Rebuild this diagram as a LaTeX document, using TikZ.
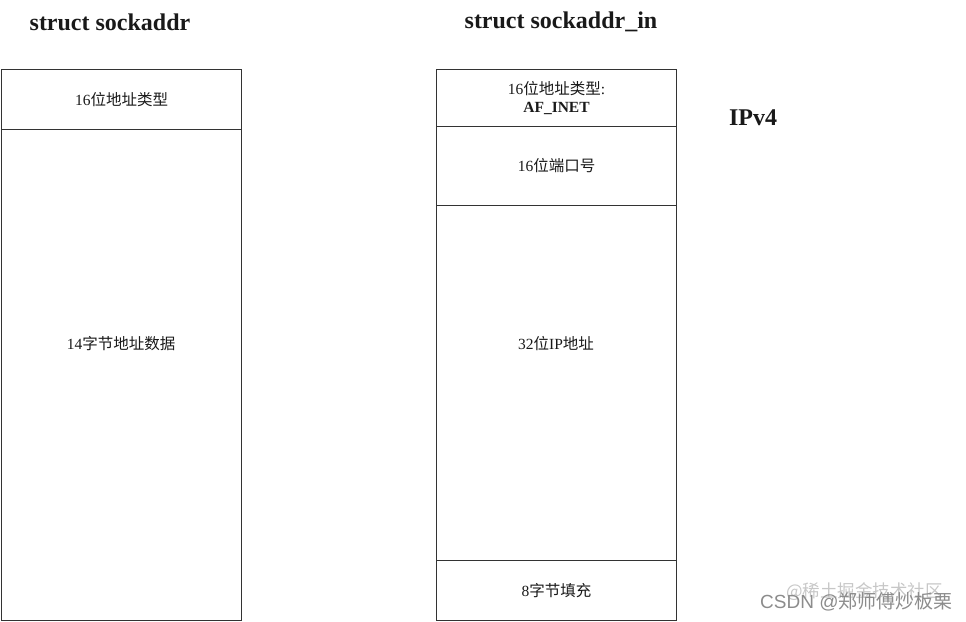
\documentclass[tikz,border=0pt]{standalone}
\usepackage{fontspec}
\setmainfont{Liberation Serif}
\newfontfamily\cjk{Noto Sans CJK SC}
\newfontfamily\wmfont{Liberation Sans}
\begin{document}
\begin{tikzpicture}[x=1pt,y=-1pt,
  cell/.style={draw=black!80, line width=1pt, minimum width=240pt, inner sep=0pt, anchor=north west},
  lbl/.style={font=\fontsize{15.5}{17}\selectfont, text=black!90, inner sep=0pt},
  ttl/.style={font=\fontsize{24}{27}\selectfont\bfseries, text=black!90, inner sep=0pt},
  wm/.style={font=\fontsize{19}{21}\selectfont, inner sep=0pt, anchor=west}]
\useasboundingbox (0,0) rectangle (966,621);
% titles
\node[ttl] (t1) at (110,22) {struct sockaddr};
\node[ttl] (t2) at (561,22) {struct sockaddr\_in};
\node[ttl] (t3) at (753,118) {IPv4};
% left struct
\node[cell, minimum height=60pt] (la) at (1,69) {};
\node[cell, minimum height=491pt] (lb) at (1,129) {};
\node[lbl] (la-t) at (la.center) {16{\cjk 位地址类型}};
\node[lbl] (lb-t) at (121,344) {14{\cjk 字节地址数据}};
% right struct
\node[cell, minimum height=57pt] (ra) at (436,69) {};
\node[cell, minimum height=79pt] (rb) at (436,126) {};
\node[cell, minimum height=355pt] (rc) at (436,205) {};
\node[cell, minimum height=60pt] (rd) at (436,560) {};
\node[lbl, align=center] (ra-t) at (ra.center) {16{\cjk 位地址类型}:\\[1pt]\textbf{AF\_INET}};
\node[lbl] (rb-t) at (rb.center) {16{\cjk 位端口号}};
\node[lbl] (rc-t) at (556,344) {32{\cjk 位}IP{\cjk 地址}};
\node[lbl] (rd-t) at (rd.center) {8{\cjk 字节填充}};
% watermark
\node[wm, text=black!22, font=\fontsize{17.5}{20}\selectfont] (w2) at (786,592) {\cjk @稀土掘金技术社区};
\node[wm, text=black!45] (w1) at (760,602) {\wmfont CSDN @{\cjk 郑师傅炒板栗}};
\end{tikzpicture}
\end{document}
